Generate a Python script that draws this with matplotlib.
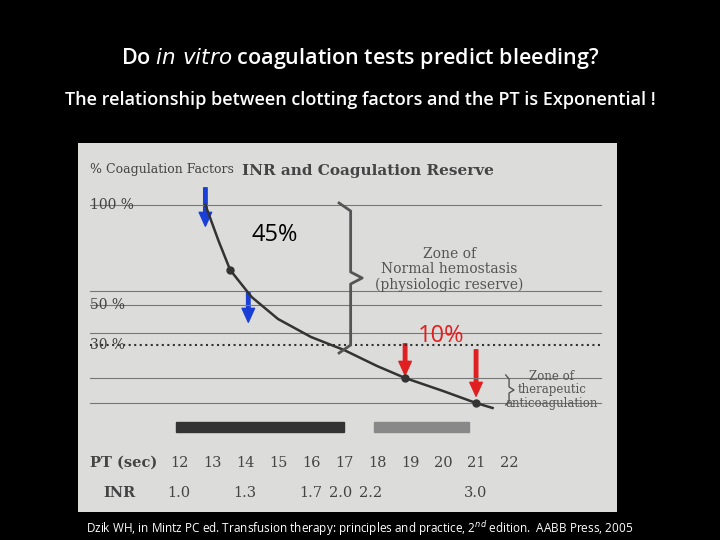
import numpy as np
import matplotlib.pyplot as plt
from matplotlib.patches import Rectangle, FancyArrowPatch

plt.rcParams['font.family'] = ['Open Sans', 'DejaVu Sans']

# curve (PT seconds, % coagulation factors)
curve_pt = [12.8, 13.2, 13.55, 14.2, 15.0, 16.0, 17.0, 18.0, 18.85, 20.0, 21.0, 21.5]
curve_pct = [100, 82, 67.5, 54, 43, 34, 27.5, 19.5, 13.5, 7, 1, -1.5]
dot_pt = [13.55, 18.85, 21.0]
dot_pct = [67.5, 13.5, 1]
pt_ticks = [12, 13, 14, 15, 16, 17, 18, 19, 20, 21, 22]
inr_pos = [12, 14, 16, 16.9, 17.8, 21]
inr_lab = ['1.0', '1.3', '1.7', '2.0', '2.2', '3.0']
pct_ticks = [100, 50, 30]
hlines = [100, 57, 50, 36, 13.5, 1]
blue_arrows = [(12.8, 110, 88), (14.1, 58, 40)]
red_arrows = [(18.85, 32, 13.5), (21.0, 29, 3)]

fig = plt.figure(figsize=(7.2, 5.4), dpi=100, facecolor='black')
fig.text(0.5, 0.892, 'Do $\\it{in\\ vitro}$ coagulation tests predict bleeding?', color='white',
         ha='center', va='center', fontsize=15.5, fontweight='semibold')
fig.text(0.5, 0.815, 'The relationship between clotting factors and the PT is Exponential !', color='white',
         ha='center', va='center', fontsize=13, fontweight='semibold')
fig.text(0.5, 0.022, 'Dzik WH, in Mintz PC ed. Transfusion therapy: principles and practice, 2$^{nd}$ edition.  AABB Press, 2005',
         color='white', ha='center', va='center', fontsize=8.5)

ax = fig.add_axes([78/720, 1-512/540, (617-78)/720, (512-143)/540])
ax.set_facecolor('#dcdcda')
ax.set_xlim(8.94, 25.27)
ax.set_ylim(-53.5, 131)
ax.set_xticks([]); ax.set_yticks([])
for s in ax.spines.values():
    s.set_visible(False)

for h in hlines:
    ax.plot([9.3, 24.8], [h, h], color='#777777', lw=0.8)
ax.plot([9.3, 24.8], [30, 30], color='#333333', lw=1.5, ls=':')

ax.plot(curve_pt, curve_pct, color='#333333', lw=1.8)
ax.scatter(dot_pt, dot_pct, color='#333333', s=25, zorder=3)

for p in pct_ticks:
    ax.text(9.3, p, f'{p} %', color='#444444', fontsize=10, va='center', family='DejaVu Serif')
ax.text(9.3, 118, '% Coagulation Factors', color='#444444', fontsize=9, va='center', family='DejaVu Serif')
ax.text(13.9, 117, 'INR and Coagulation Reserve', color='#444444', fontsize=11, fontweight='bold',
        va='center', family='DejaVu Serif')
ax.text(20.2, 79, 'Zone of\nNormal hemostasis\n(physiologic reserve)', color='#555555', fontsize=10,
        ha='center', va='top', family='DejaVu Serif', linespacing=1.1)
ax.text(23.3, 7.5, 'Zone of\ntherapeutic\nanticoagulation', color='#555555', fontsize=8.5,
        ha='center', va='center', family='DejaVu Serif', linespacing=1.0)

# brace
by0, by1, bx = 100, 27, 17.0
ym = (by0 + by1) / 2
ax.plot([bx - 0.15, bx + 0.2, bx + 0.2, bx + 0.55, bx + 0.2, bx + 0.2, bx - 0.15],
        [by0 + 1, by0 - 3, ym + 3, ym, ym - 3, by1 + 3, by1 - 1],
        color='#555555', lw=2)
ax.plot([21.9, 22.0, 22.0, 22.15, 22.0, 22.0, 21.9], [15, 13, 9, 7.5, 6, 2, 0], color='#555555', lw=1)

ax.add_patch(Rectangle((11.9, -13.5), 5.1, 5, color='#333333'))
ax.add_patch(Rectangle((17.9, -13.5), 2.9, 5, color='#888888'))

ax.text(9.3, -29, 'PT (sec)', color='#444444', fontsize=10.5, fontweight='bold', va='center', family='DejaVu Serif')
for p in pt_ticks:
    ax.text(p, -29, str(p), color='#444444', fontsize=10.5, ha='center', va='center', family='DejaVu Serif')
ax.text(9.7, -44, 'INR', color='#444444', fontsize=10.5, fontweight='bold', va='center', family='DejaVu Serif')
for p, l in zip(inr_pos, inr_lab):
    ax.text(p, -44, l, color='#444444', fontsize=10.5, ha='center', va='center', family='DejaVu Serif')

for x, y0, y1 in blue_arrows:
    ax.add_patch(FancyArrowPatch((x, y0), (x, y1), arrowstyle='simple,head_width=9,head_length=10,tail_width=2.5',
                                 color='#1a3fd6', mutation_scale=1))
for x, y0, y1 in red_arrows:
    ax.add_patch(FancyArrowPatch((x, y0), (x, y1), arrowstyle='simple,head_width=9,head_length=10,tail_width=2.5',
                                 color='#e02020', mutation_scale=1))
ax.text(14.9, 85, '45%', color='black', fontsize=17, ha='center', va='center')
ax.text(19.95, 34.5, '10%', color='#e02020', fontsize=17, ha='center', va='center')

fig.savefig('out.png', dpi=100, facecolor='black')
